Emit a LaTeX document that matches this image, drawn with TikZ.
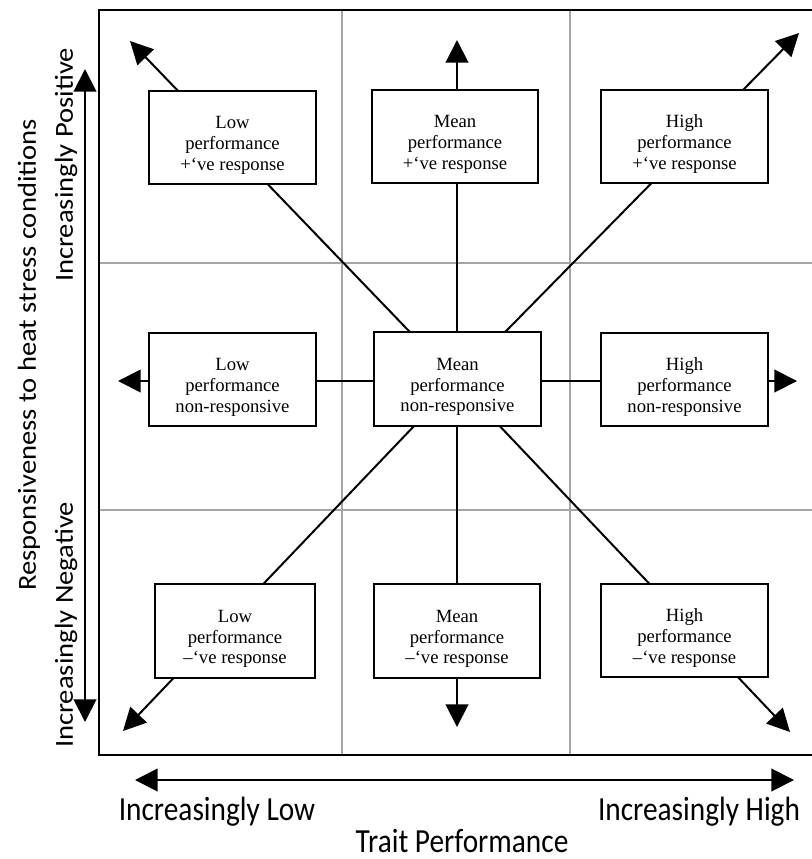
\documentclass[tikz,border=0pt]{standalone}
\usepackage{fontspec}
\setmainfont{Liberation Serif}
\newfontfamily\axisfont{Carlito}
\usetikzlibrary{arrows.meta}

\definecolor{gridgray}{RGB}{165,165,165}

% cell text sits a little below the middle of its box
\newcommand{\celltext}[1]{\raisebox{0pt}[\dimexpr\height+12pt\relax][\depth]{\begin{tabular}{@{}c@{}}#1\end{tabular}}}

\tikzset{every picture/.style={line width=1.5pt}}
\tikzset{
  cellbox/.style={draw, fill=white, line width=1.4pt, minimum width=125pt, minimum height=70pt,
    inner sep=0pt, font=\fontsize{14}{15.5}\selectfont},
  gridline/.style={draw=gridgray, line width=1.2pt},
  dirarrow/.style={-{Triangle[length=17pt,width=17pt]}, line width=1.5pt},
  axisarrow/.style={{Triangle[length=17pt,width=17pt]}-{Triangle[length=17pt,width=17pt]}, line width=1.5pt},
  sidelabel/.style={font=\axisfont\fontsize{19.5}{23}\selectfont, inner sep=0pt, rotate=90},
  axislabel/.style={font=\axisfont\fontsize{22}{26}\selectfont, inner sep=0pt},
}

\begin{document}
\begin{tikzpicture}[x=0.75pt,y=0.75pt,yscale=-1]
  \useasboundingbox (0,0) rectangle (812,859);

  % grid and frame
  \draw [gridline] (342,10) -- (342,755);
  \draw [gridline] (570,10) -- (570,755);
  \draw [gridline] (99,263) -- (815,263);
  \draw [gridline] (99,510) -- (815,510);
  \draw [line width=2pt] (99,10) rectangle (815,755);

  % arrows out of the middle cell
  \coordinate (mid) at (457,381);
  \coordinate (tipNW) at (130,41);
  \coordinate (tipN) at (457,40);
  \coordinate (tipNE) at (799,33);
  \coordinate (tipW) at (118,381);
  \coordinate (tipE) at (797,381);
  \coordinate (tipSW) at (123,731);
  \coordinate (tipS) at (457,727);
  \coordinate (tipSE) at (790,732);
  \foreach \d in {NW,N,NE,W,E,SW,S,SE}
    \draw [dirarrow] (mid) -- (tip\d);

  % cells
  \node [cellbox] (lowpos) at (232.5,137.5) {\celltext{Low\\performance\\+‘ve response}};
  \node [cellbox] (meanpos) at (455,136.5) {\celltext{Mean\\performance\\+‘ve response}};
  \node [cellbox] (highpos) at (684.5,136.5) {\celltext{High\\performance\\+‘ve response}};
  \node [cellbox] (lownon) at (232.5,379.5) {\celltext{Low\\performance\\non-responsive}};
  \node [cellbox] (meannon) at (457.5,379) {\celltext{Mean\\performance\\non-responsive}};
  \node [cellbox] (highnon) at (684.5,379.5) {\celltext{High\\performance\\non-responsive}};
  \node [cellbox, minimum width=120pt] (lowneg) at (235,631) {\celltext{Low\\performance\\–‘ve response}};
  \node [cellbox] (meanneg) at (457,631) {\celltext{Mean\\performance\\–‘ve response}};
  \node [cellbox] (highneg) at (684.5,630.5) {\celltext{High\\performance\\–‘ve response}};

  % axes
  \coordinate (ytop) at (85,69);
  \coordinate (ybot) at (85,722);
  \draw [axisarrow] (ybot) -- (ytop);
  \coordinate (xleft) at (135,780);
  \coordinate (xright) at (794,780);
  \draw [axisarrow] (xleft) -- (xright);

  \node [sidelabel] (resp) at (29,355) {\scalebox{1.1}[1]{Responsiveness to heat stress conditions}};
  \node [sidelabel] (pos) at (66,165) {\scalebox{1.1}[1]{Increasingly Positive}};
  \node [sidelabel] (neg) at (66,625) {\scalebox{1.1}[1]{Increasingly Negative}};
  \node [axislabel] (low) at (217,812) {\scalebox{1}[1.15]{Increasingly Low}};
  \node [axislabel] (high) at (699,812) {\scalebox{1}[1.15]{Increasingly High}};
  \node [axislabel] (trait) at (462,841) {\scalebox{1}[1.15]{Trait Performance}};
\end{tikzpicture}
\end{document}
